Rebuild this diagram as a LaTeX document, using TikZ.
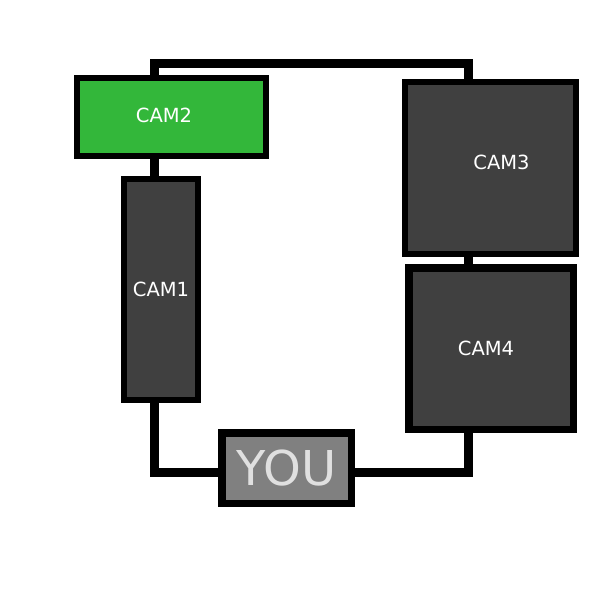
\documentclass[tikz,border=0pt]{standalone}
\usepackage{fontspec}
\setmainfont{DejaVu Sans}
\usepackage{tikz}
\usepackage{xcolor}
\usetikzlibrary{positioning, backgrounds, calc}
\definecolor{CamGreen}{HTML}{33B73A}
\definecolor{CamGray}{HTML}{404040}
\definecolor{YouGray}{HTML}{808080}
\definecolor{YouText}{HTML}{E0E0E0}

\tikzset{
    cam/.style={draw=black, line width=6pt, fill=CamGray, inner sep=0pt,
        font=\fontsize{19.5}{22}\selectfont, text=white},
    wire/.style={draw=black, line width=9pt, line join=miter}
}

\begin{document}
\begin{tikzpicture}[x=1pt, y=-1pt]
    \useasboundingbox (0,0) rectangle (600,600);

    % Draw cameras (sizes are outer size minus border)
    \node[cam, fill=CamGreen, minimum width=189pt, minimum height=78pt,
        label={[font=\fontsize{19.5}{22}\selectfont, text=white, xshift=-7.5pt, yshift=2pt]center:CAM2}]
        (cam2) at (171.5,117) {};
    \node[cam, minimum width=74pt, minimum height=221pt] (cam1) at (161,289.5) {CAM1};
    \node[cam, minimum width=171pt, minimum height=172pt,
        label={[font=\fontsize{19.5}{22}\selectfont, text=white, xshift=11pt, yshift=5.5pt]center:CAM3}]
        (cam3) at (490.5,168) {};
    \node[cam, line width=7.5pt, minimum width=164.5pt, minimum height=161.5pt,
        label={[font=\fontsize{19.5}{22}\selectfont, text=white, xshift=-5pt]center:CAM4}]
        (cam4) at (491,348.5) {};

    % Draw you
    \node[cam, line width=7.5pt, fill=YouGray, text=YouText, font=\fontsize{48}{52}\selectfont,
        minimum width=129.5pt, minimum height=70.5pt] (you) at (286.5,468) {YOU};

    % Corners of the loop
    \coordinate (tl) at (154.5,63.5);
    \coordinate (tr) at (468.5,63.5);
    \coordinate (br) at (468.5,472);
    \coordinate (bl) at (154.5,472);

    % Draw wires
    \begin{scope}[on background layer]
        \draw[wire] (tl |- cam2.south) -- (tl |- cam1.north);
        \draw[wire] (tl |- cam2.north) -- (tl) -- (tr) -- (tr |- cam3.north);
        \draw[wire] (tr |- cam3.south) -- (tr |- cam4.north);
        \draw[wire] (br |- cam4.south) -- (br) -- (you.east |- br);
        \draw[wire] (you.west |- bl) -- (bl) -- (bl |- cam1.south);
    \end{scope}
\end{tikzpicture}
\end{document}
